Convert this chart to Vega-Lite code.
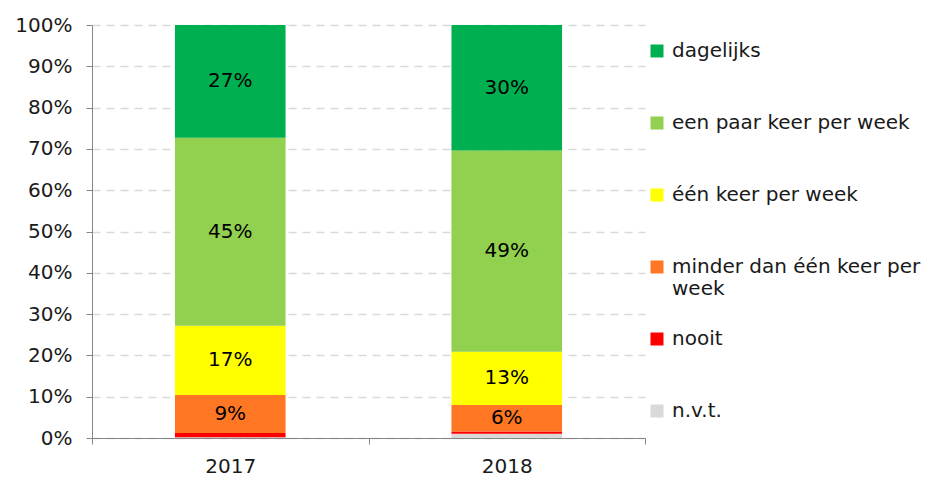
{
  "$schema": "https://vega.github.io/schema/vega-lite/v6.json",
  "autosize": "none",
  "width": 553,
  "height": 413,
  "padding": {"left": 92, "top": 25, "right": 288, "bottom": 39},
  "config": {
    "font": "DejaVu Sans",
    "view": {"stroke": null},
    "axis": {"labelFont": "DejaVu Sans", "labelColor": "#1a1a1a"},
    "legend": {"labelFont": "DejaVu Sans"}
  },
  "data": {
    "values": [
      {"jaar": "2017", "categorie": "n.v.t.", "rang": 1, "waarde": 0.2, "label": ""},
      {"jaar": "2017", "categorie": "nooit", "rang": 2, "waarde": 1.0, "label": ""},
      {"jaar": "2017", "categorie": "minder dan één keer per week", "rang": 3, "waarde": 9.2, "label": "9%"},
      {"jaar": "2017", "categorie": "één keer per week", "rang": 4, "waarde": 16.8, "label": "17%"},
      {"jaar": "2017", "categorie": "een paar keer per week", "rang": 5, "waarde": 45.5, "label": "45%"},
      {"jaar": "2017", "categorie": "dagelijks", "rang": 6, "waarde": 27.3, "label": "27%"},
      {"jaar": "2018", "categorie": "n.v.t.", "rang": 1, "waarde": 1.0, "label": ""},
      {"jaar": "2018", "categorie": "nooit", "rang": 2, "waarde": 0.6, "label": ""},
      {"jaar": "2018", "categorie": "minder dan één keer per week", "rang": 3, "waarde": 6.4, "label": "6%"},
      {"jaar": "2018", "categorie": "één keer per week", "rang": 4, "waarde": 12.9, "label": "13%"},
      {"jaar": "2018", "categorie": "een paar keer per week", "rang": 5, "waarde": 48.7, "label": "49%"},
      {"jaar": "2018", "categorie": "dagelijks", "rang": 6, "waarde": 30.4, "label": "30%"}
    ]
  },
  "encoding": {
    "x": {
      "field": "jaar",
      "type": "nominal",
      "scale": {"paddingInner": 0, "paddingOuter": 0},
      "axis": {
        "title": null,
        "labelAngle": 0,
        "labelFontSize": 20,
        "labelPadding": 12,
        "tickBand": "extent",
        "tickSize": 6,
        "tickColor": "#868686",
        "domainColor": "#868686",
        "grid": false
      }
    },
    "y": {
      "field": "waarde",
      "type": "quantitative",
      "stack": "zero",
      "scale": {"domain": [0, 100], "nice": false},
      "axis": {
        "title": null,
        "values": [0, 10, 20, 30, 40, 50, 60, 70, 80, 90, 100],
        "labelExpr": "datum.value + '%'",
        "labelFontSize": 20,
        "labelPadding": 14,
        "tickSize": 6,
        "tickColor": "#868686",
        "domainColor": "#868686",
        "gridColor": "#d9d9d9",
        "gridDash": [8, 6],
        "gridWidth": 1.5
      }
    },
    "order": {"field": "rang", "type": "quantitative", "sort": "ascending"}
  },
  "layer": [
    {
      "mark": {"type": "bar", "width": {"band": 0.4}},
      "encoding": {
        "color": {
          "field": "categorie",
          "type": "nominal",
          "scale": {
            "domain": ["dagelijks", "een paar keer per week", "één keer per week", "minder dan één keer per week", "nooit", "n.v.t."],
            "range": ["#00B050", "#92D050", "#FFFF00", "#FF7723", "#FF0000", "#D9D9D9"]
          },
          "legend": {
            "title": null,
            "orient": "none",
            "legendX": 555,
            "legendY": 16,
            "padding": 0,
            "symbolType": "square",
            "symbolSize": 169,
            "symbolStrokeWidth": 0,
            "labelFontSize": 20,
            "labelColor": "#1a1a1a",
            "labelOffset": 5,
            "labelLimit": 400,
            "gridAlign": "all",
            "rowPadding": 30,
            "labelExpr": "datum.label == 'minder dan één keer per week' ? ['minder dan één keer per', 'week'] : datum.label"
          }
        }
      }
    },
    {
      "mark": {"type": "text", "fontSize": 20, "color": "#000000"},
      "encoding": {
        "y": {"field": "waarde", "type": "quantitative", "stack": "zero", "bandPosition": 0.5},
        "text": {"field": "label", "type": "nominal"}
      }
    }
  ]
}
